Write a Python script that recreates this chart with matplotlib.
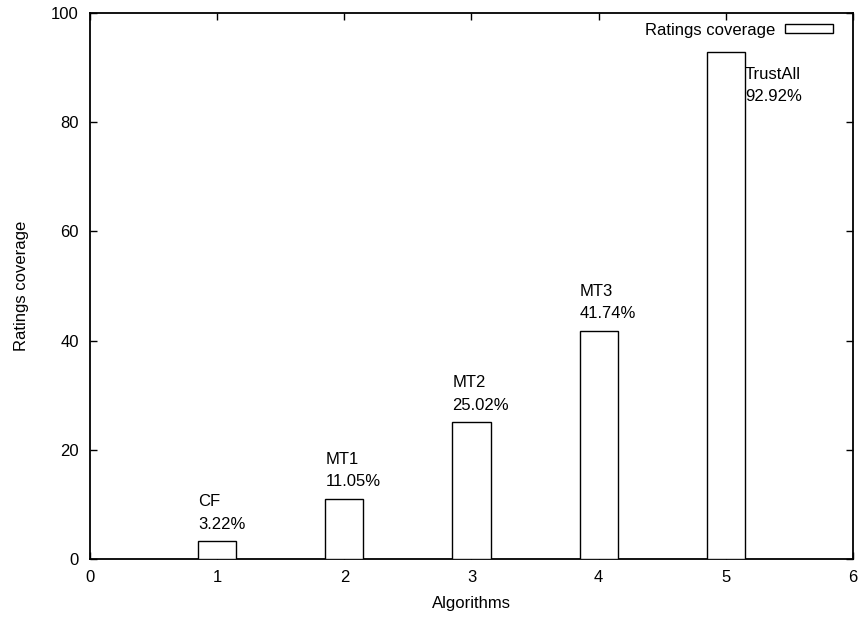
import matplotlib
matplotlib.use("Agg")
import matplotlib.pyplot as plt

plt.rcParams["font.family"] = ["Liberation Sans", "DejaVu Sans"]
plt.rcParams["font.size"] = 12

positions = [1, 2, 3, 4, 5]
names = ["CF", "MT1", "MT2", "MT3", "TrustAll"]
coverage = [3.22, 11.05, 25.02, 41.74, 92.92]

fig = plt.figure(figsize=(8.62, 6.17), dpi=100)
ax = fig.add_axes([90 / 862, 58 / 617, 763 / 862, 546 / 617])

bw = 0.3
ax.bar(positions, coverage, width=bw, facecolor="white", edgecolor="black",
       linewidth=1.0, label="Ratings coverage", zorder=3)

for x, name, v in zip(positions, names, coverage):
    txt = f"{name}\n{v:.2f}%"
    if v > 80:
        ax.text(x + bw / 2, v - 2.8, txt, ha="left", va="top", linespacing=1.6)
    else:
        ax.text(x - bw / 2, v + 1.8, txt, ha="left", va="bottom", linespacing=1.6)

ax.set_xlim(0, 6)
ax.set_ylim(0, 100)
ax.set_xticks(range(0, 7))
ax.set_yticks(range(0, 101, 20))
ax.tick_params(direction="in", top=True, right=True, length=5, width=1, pad=8)
for s in ax.spines.values():
    s.set_linewidth(1.3)

ax.set_xlabel("Algorithms", labelpad=8)
ax.set_ylabel("Ratings coverage", labelpad=16)

ax.legend(loc="upper right", bbox_to_anchor=(1.0026, 1.022), frameon=False,
          markerfirst=False, handlelength=2.9, handleheight=0.4,
          handletextpad=0.6, borderaxespad=0.9)

fig.savefig("out.png", dpi=100)
plt.close(fig)
